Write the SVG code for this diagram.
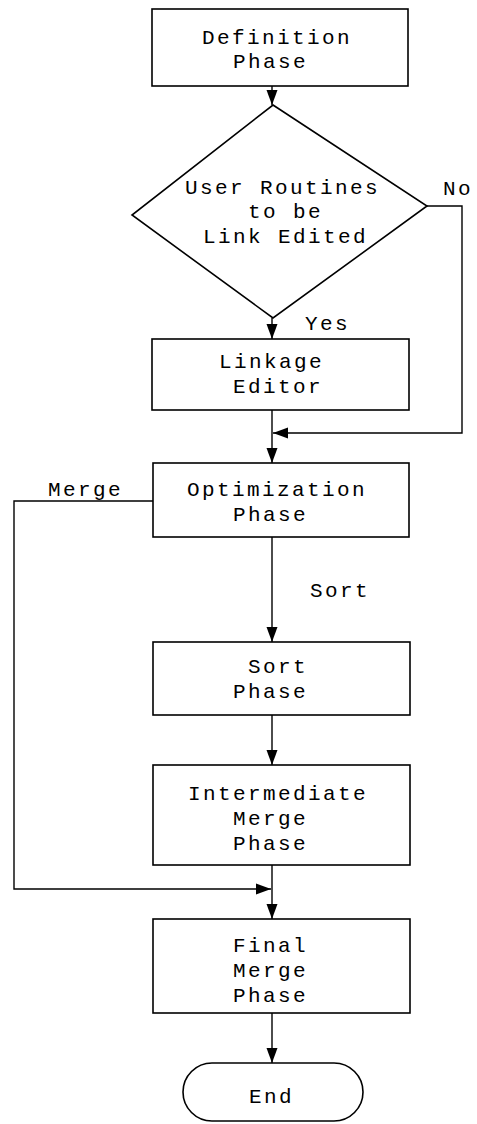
<svg xmlns="http://www.w3.org/2000/svg" width="477" height="1124" viewBox="0 0 477 1124">
<style>
.box{fill:#fff;stroke:#000;stroke-width:1.6}
.ln{fill:none;stroke:#000;stroke-width:1.4}
text{font-family:"Liberation Mono","Courier New",monospace;font-size:21px;letter-spacing:2.4px;fill:#000}
</style>
<defs>
<marker id="ah" markerUnits="userSpaceOnUse" markerWidth="16" markerHeight="12" refX="15" refY="6" orient="auto">
<path d="M0,0.5 L15,6 L0,11.5 z" fill="#000"/>
</marker>
</defs>
<rect width="477" height="1124" fill="#fff"/>
<g id="connectors">
<path class="ln" d="M272,86 V105" marker-end="url(#ah)"/>
<path class="ln" d="M272,318 V339" marker-end="url(#ah)"/>
<path class="ln" d="M427,206 H462 V433 H273" marker-end="url(#ah)"/>
<path class="ln" d="M272,410 V463" marker-end="url(#ah)"/>
<path class="ln" d="M272,537 V642" marker-end="url(#ah)"/>
<path class="ln" d="M272,715 V765" marker-end="url(#ah)"/>
<path class="ln" d="M153,501 H14 V889 H271" marker-end="url(#ah)"/>
<path class="ln" d="M272,865 V919" marker-end="url(#ah)"/>
<path class="ln" d="M272,1013 V1063" marker-end="url(#ah)"/>
<text x="443" y="195">No</text>
<text x="305" y="330">Yes</text>
<text x="48" y="496">Merge</text>
<text x="310" y="597">Sort</text>
</g>
<g id="definition">
<rect class="box" x="152" y="9" width="256" height="77"/>
<text x="202" y="44">Definition</text>
<text x="233" y="68">Phase</text>
</g>
<g id="decision">
<polygon class="box" points="273,105 427,206 273,318 132,215"/>
<text x="185" y="194">User Routines</text>
<text x="248" y="218">to be</text>
<text x="203" y="243">Link Edited</text>
</g>
<g id="linkage">
<rect class="box" x="152" y="339" width="257" height="71"/>
<text x="219" y="368">Linkage</text>
<text x="233" y="393">Editor</text>
</g>
<g id="optimization">
<rect class="box" x="153" y="463" width="256" height="74"/>
<text x="187" y="496">Optimization</text>
<text x="233" y="521">Phase</text>
</g>
<g id="sort">
<rect class="box" x="153" y="642" width="257" height="73"/>
<text x="248" y="673">Sort</text>
<text x="233" y="698">Phase</text>
</g>
<g id="intermediate">
<rect class="box" x="153" y="765" width="257" height="100"/>
<text x="188" y="800">Intermediate</text>
<text x="233" y="825">Merge</text>
<text x="233" y="850">Phase</text>
</g>
<g id="final">
<rect class="box" x="153" y="919" width="257" height="94"/>
<text x="233" y="952">Final</text>
<text x="233" y="977">Merge</text>
<text x="233" y="1002">Phase</text>
</g>
<g id="end">
<rect class="box" x="183" y="1063" width="180" height="58" rx="29" ry="29"/>
<text x="249" y="1103">End</text>
</g>
</svg>
